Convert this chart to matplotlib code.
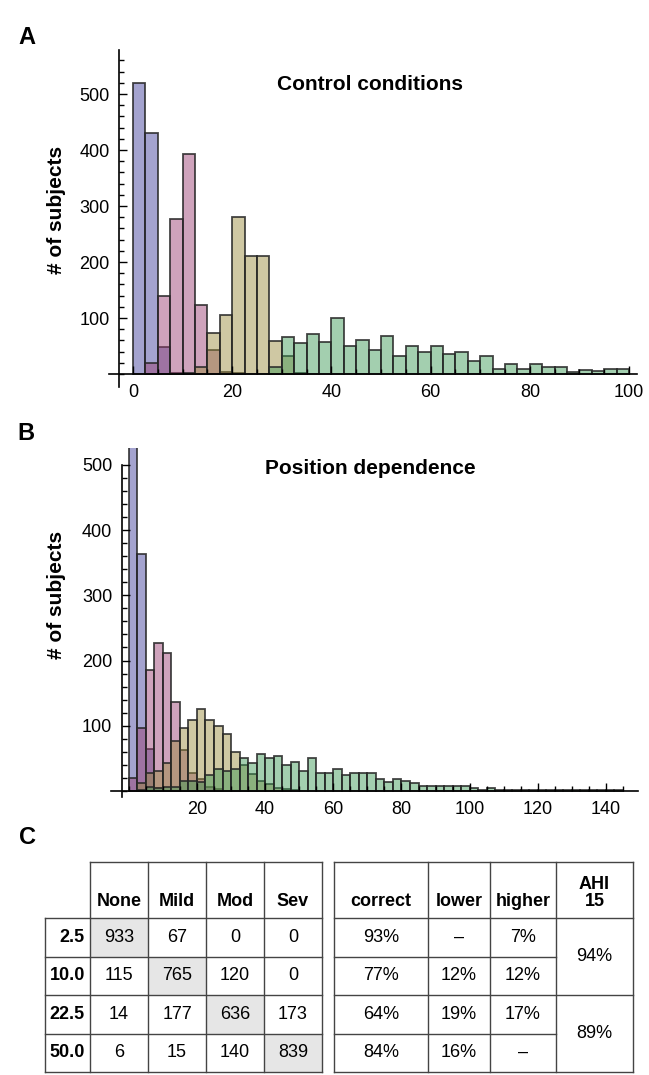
import numpy as np
import matplotlib
matplotlib.use('Agg')
import matplotlib.pyplot as plt
from matplotlib.ticker import FixedLocator

plt.rcParams['font.family'] = ['Liberation Sans Narrow', 'Liberation Sans', 'DejaVu Sans']

# ---- data (counts per 2.5-wide bin, starting at 0) ----
bin_w = 2.5

blue_A = [520, 430, 49, 2]
pink_A = [0, 20, 139, 276, 392, 124, 42, 4, 2]
yellow_A = [0, 0, 0, 0, 2, 13, 73, 106, 281, 210, 210, 59, 32, 2]
green_A = [0] * 11 + [13, 66, 55, 71, 57, 100, 50, 60, 42, 68, 32, 50, 39, 50, 35,
                      39, 24, 32, 9, 17, 9, 17, 13, 13, 3, 7, 5, 9, 9]

blue_B = [575, 364, 65, 4]
pink_B = [19, 97, 185, 227, 212, 136, 62, 28, 18, 6, 3]
yellow_B = [0, 12, 28, 31, 42, 77, 96, 109, 125, 109, 100, 87, 60, 40, 26, 15, 10, 5, 3, 2]
green_B = [0, 2, 6, 4, 6, 6, 15, 15, 14, 24, 33, 31, 33, 50, 43, 56, 50, 53, 40, 44,
           31, 50, 28, 28, 34, 25, 28, 28, 28, 18, 14, 18, 15, 12, 8, 8, 8, 8, 8, 8,
           5, 1, 5, 2, 2, 1, 2, 2, 1, 2, 2, 1, 2, 1, 2, 2, 1, 2]

# table C
row_labels = ['2.5', '10.0', '22.5', '50.0']
class_labels = ['None', 'Mild', 'Mod', 'Sev']
confusion = [[933, 67, 0, 0],
             [115, 765, 120, 0],
             [14, 177, 636, 173],
             [6, 15, 140, 839]]
stat_labels = ['correct', 'lower', 'higher']
stat_values = [['93%', '\u2013', '7%'],
               ['77%', '12%', '12%'],
               ['64%', '19%', '17%'],
               ['84%', '16%', '\u2013']]
ahi_label = 'AHI\n15'
ahi_values = ['94%', '89%']

colors = [(0.2472, 0.24, 0.6, 0.47), (0.6, 0.24, 0.4429, 0.47),
          (0.6, 0.547, 0.24, 0.47), (0.24, 0.6, 0.337, 0.47)]
edge_col = (0.15, 0.15, 0.15, 0.85)

W, H = 649, 1075
fig = plt.figure(figsize=(W / 100, H / 100), dpi=100)


def px_axes(left, right, top, bottom):
    return fig.add_axes([left / W, 1 - bottom / H, (right - left) / W, (bottom - top) / H])


def draw_hist(ax, series):
    for counts, col in zip(series, colors):
        counts = np.array(counts, dtype=float)
        x = np.arange(len(counts)) * bin_w
        m = counts > 0
        ax.bar(x[m], counts[m], width=bin_w, align='edge', color=col,
               edgecolor=edge_col, linewidth=1.3, zorder=1)


def style_axes(ax, yspine_x, xmaj, xmin, ymaj, ymin, ybound):
    for s in ['top', 'right']:
        ax.spines[s].set_visible(False)
    ax.spines['left'].set_position(('data', yspine_x))
    ax.spines['bottom'].set_position(('data', 0))
    ax.spines['left'].set_bounds(*ybound)
    for s in ['left', 'bottom']:
        ax.spines[s].set_linewidth(1.2)
        ax.spines[s].set_zorder(3)
    ax.xaxis.set_major_locator(FixedLocator(xmaj))
    ax.xaxis.set_minor_locator(FixedLocator(xmin))
    ax.yaxis.set_major_locator(FixedLocator(ymaj))
    ax.yaxis.set_minor_locator(FixedLocator(ymin))
    ax.tick_params(which='both', direction='in', width=1, labelsize=13, pad=7)
    ax.tick_params(which='major', length=6)
    ax.tick_params(which='minor', length=3.5)
    ax.patch.set_alpha(0)


# ---- panel A ----
axA = px_axes(109, 637, 50, 387)
draw_hist(axA, [blue_A, pink_A, yellow_A, green_A])
axA.set_xlim(-4.84, 101.6)
axA.set_ylim(-23.2, 578.6)
style_axes(axA, -2.8, np.arange(0, 101, 20), np.arange(0, 101, 5),
           np.arange(100, 501, 100), np.arange(0, 579, 20), (-23.2, 578.6))

# ---- panel B ----
axB = px_axes(110.7, 638, 448, 797)
draw_hist(axB, [blue_B, pink_B, yellow_B, green_B])
axB.set_xlim(-5.31, 149.4)
axB.set_ylim(-9.4, 526)
style_axes(axB, -2.0, np.arange(20, 141, 20), np.arange(0, 146, 5),
           np.arange(100, 501, 100), np.arange(0, 501, 20), (-9.4, 500))

# labels and titles
fig.text(27 / W, 1 - 37 / H, 'A', fontsize=17, fontweight='bold', ha='center', va='center')
fig.text(26 / W, 1 - 433 / H, 'B', fontsize=17, fontweight='bold', ha='center', va='center')
fig.text(27 / W, 1 - 838 / H, 'C', fontsize=17, fontweight='bold', ha='center', va='center')
fig.text(370 / W, 1 - 85 / H, 'Control conditions', fontsize=15, fontweight='bold',
         ha='center', va='center')
fig.text(370 / W, 1 - 468 / H, 'Position dependence', fontsize=15, fontweight='bold',
         ha='center', va='center')
fig.text(57 / W, 1 - 210 / H, '# of subjects', fontsize=15, fontweight='bold',
         rotation=90, ha='center', va='center')
fig.text(57 / W, 1 - 595 / H, '# of subjects', fontsize=15, fontweight='bold',
         rotation=90, ha='center', va='center')

# ---- panel C (table) ----
axC = fig.add_axes([0, 0, 1, 1])
axC.set_xlim(0, W)
axC.set_ylim(H, 0)
axC.axis('off')

t_top, h_bot, row_h = 862, 918, 38.5
row_edges = [h_bot + i * row_h for i in range(len(row_labels) + 1)]
left_edges = [45, 90, 148, 206, 264, 322]
right_edges = [334, 428, 490, 556, 633]
lc = dict(color='#444444', lw=1.0)
fs = 13

# shaded diagonal
for i in range(len(row_labels)):
    axC.fill_between([left_edges[i + 1], left_edges[i + 2]], row_edges[i], row_edges[i + 1],
                     color='#e6e6e6', lw=0, zorder=0)

# left table grid
for y in row_edges:
    axC.plot([left_edges[0], left_edges[-1]], [y, y], **lc)
axC.plot([left_edges[1], left_edges[-1]], [t_top, t_top], **lc)
axC.plot([left_edges[0], left_edges[0]], [h_bot, row_edges[-1]], **lc)
for x in left_edges[1:]:
    axC.plot([x, x], [t_top, row_edges[-1]], **lc)

# right table grid
axC.plot([right_edges[0], right_edges[-1]], [t_top, t_top], **lc)
axC.plot([right_edges[0], right_edges[-1]], [h_bot, h_bot], **lc)
for i, y in enumerate(row_edges[1:]):
    x_end = right_edges[-1] if (i % 2 == 1) else right_edges[-2]
    axC.plot([right_edges[0], x_end], [y, y], **lc)
for x in right_edges:
    axC.plot([x, x], [t_top, row_edges[-1]], **lc)

# headers
for j, lab in enumerate(class_labels):
    axC.text((left_edges[j + 1] + left_edges[j + 2]) / 2, h_bot - 8, lab, fontsize=fs,
             fontweight='bold', ha='center', va='bottom')
for j, lab in enumerate(stat_labels):
    axC.text((right_edges[j] + right_edges[j + 1]) / 2, h_bot - 8, lab, fontsize=fs,
             fontweight='bold', ha='center', va='bottom')
axC.text((right_edges[3] + right_edges[4]) / 2, h_bot - 8, ahi_label, fontsize=fs,
         fontweight='bold', ha='center', va='bottom', linespacing=1.0)

# body
for i, lab in enumerate(row_labels):
    yc = (row_edges[i] + row_edges[i + 1]) / 2
    axC.text(left_edges[1] - 5, yc, lab, fontsize=fs, fontweight='bold', ha='right', va='center')
    for j, v in enumerate(confusion[i]):
        axC.text((left_edges[j + 1] + left_edges[j + 2]) / 2, yc, str(v), fontsize=fs,
                 ha='center', va='center')
    for j, v in enumerate(stat_values[i]):
        axC.text((right_edges[j] + right_edges[j + 1]) / 2, yc, v, fontsize=fs,
                 ha='center', va='center')
for k, v in enumerate(ahi_values):
    axC.text((right_edges[3] + right_edges[4]) / 2, row_edges[2 * k + 1], v, fontsize=fs,
             ha='center', va='center')

fig.savefig('out.png', dpi=100)
